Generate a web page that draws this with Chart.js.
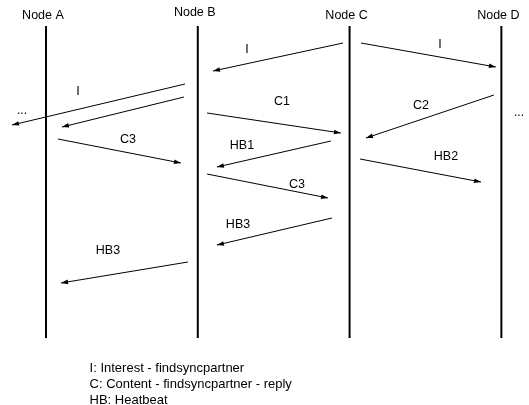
<!DOCTYPE html>
<html>
<head>
<meta charset="utf-8">
<script src="https://cdn.jsdelivr.net/npm/chart.js@4"></script>
<style>
  html, body { margin: 0; padding: 0; background: #fff; }
  #wrap { width: 529px; height: 405px; position: relative; }
</style>
</head>
<body>
<div id="wrap"><canvas id="seq"></canvas></div>
<script>
// Nodes sit on x = 0..3, time runs down the y axis
const nodes = ['Node A', 'Node B', 'Node C', 'Node D'];
const nodeLabelTime = [-1.2, -1.5, -1.2, -1.2];
const lifelineStart = 0;
const lifelineEnd = 31.2;

// Messages
const msgLabels = ['I', 'I', 'I', '', 'C1', 'C2', 'C3', 'HB1', 'C3', 'HB2', 'HB3', 'HB3'];
const msgFromX = [1.957, 2.075, 0.916, 0.909, 1.061, 2.951, 0.079, 1.877, 1.061, 2.069, 1.884, 0.935];
const msgFromT = [1.7, 1.7, 5.8, 7.1, 8.7, 6.9, 11.3, 11.5, 14.8, 13.3, 19.2, 23.6];
const msgToX = [1.100, 2.964, -0.224, 0.105, 1.943, 2.108, 0.889, 1.126, 1.858, 2.866, 1.126, 0.099];
const msgToT = [4.5, 4.1, 9.9, 10.1, 10.7, 11.2, 13.7, 14.1, 17.2, 15.6, 21.9, 25.7];
const msgLabelX = [1.324, 2.596, 0.211, 0, 1.555, 2.470, 0.540, 1.291, 1.653, 2.635, 1.265, 0.408];
const msgLabelT = [2.2, 1.7, 6.4, 0, 7.4, 7.8, 11.2, 11.8, 15.7, 12.9, 19.7, 22.3];

// "..." continuation marks
const dotsX = [-0.158, 3.116];
const dotsT = [8.4, 8.6];

// Key text
const keyLines = ['I: Interest - findsyncpartner', 'C: Content - findsyncpartner - reply', 'HB: Heatbeat'];
const keyX = 0.287;
const keyT = [34.1, 35.7, 37.3];

const FONT = "'Liberation Sans', Arial, sans-serif";

const datasets = [];

// ── Lifelines ──
nodes.forEach((n, i) => {
    datasets.push({
        label: n,
        data: [{ x: i, y: lifelineStart }, { x: i, y: lifelineEnd }],
        showLine: true,
        borderColor: '#000',
        borderWidth: 2,
        pointRadius: 0,
        isArrow: false
    });
});

// ── Message arrows ──
msgLabels.forEach((m, i) => {
    datasets.push({
        label: m,
        data: [{ x: msgFromX[i], y: msgFromT[i] }, { x: msgToX[i], y: msgToT[i] }],
        showLine: true,
        borderColor: '#000',
        borderWidth: 1,
        pointRadius: 0,
        isArrow: true
    });
});

const textPlugin = {
    id: 'seqText',
    afterDatasetsDraw(chart) {
        const ctx = chart.ctx;
        const xs = chart.scales.x, ys = chart.scales.y;

        // arrowheads
        chart.data.datasets.forEach((ds, di) => {
            if (!ds.isArrow) return;
            const pts = chart.getDatasetMeta(di).data;
            const a = pts[0], b = pts[1];
            const ang = Math.atan2(b.y - a.y, b.x - a.x);
            const len = 7, half = 2.3;
            ctx.save();
            ctx.translate(b.x, b.y);
            ctx.rotate(ang);
            ctx.beginPath();
            ctx.moveTo(0, 0);
            ctx.lineTo(-len, -half);
            ctx.lineTo(-len, half);
            ctx.closePath();
            ctx.fillStyle = '#000';
            ctx.fill();
            ctx.restore();
        });

        ctx.save();
        ctx.fillStyle = '#000';
        ctx.textBaseline = 'alphabetic';

        const put = (txt, x, t, size, align) => {
            ctx.font = size + 'px ' + FONT;
            ctx.textAlign = align;
            ctx.fillText(txt, xs.getPixelForValue(x), ys.getPixelForValue(t) + size * 0.36);
        };

        nodes.forEach((n, i) => put(n, i - 0.02, nodeLabelTime[i], 12.5, 'center'));
        msgLabels.forEach((m, i) => { if (m) put(m, msgLabelX[i], msgLabelT[i], 12.5, 'center'); });
        dotsX.forEach((x, i) => put('...', x, dotsT[i], 12, 'center'));
        keyLines.forEach((k, i) => put(k, keyX, keyT[i], 13, 'left'));
        ctx.restore();
    }
};

new Chart(document.getElementById('seq'), {
    type: 'scatter',
    data: { datasets: datasets },
    options: {
        responsive: true,
        maintainAspectRatio: false,
        animation: false,
        layout: { padding: 0 },
        scales: {
            x: { type: 'linear', display: false, min: -0.303, max: 3.182 },
            y: { type: 'linear', display: false, reverse: true, min: -2.6, max: 37.9 }
        },
        plugins: {
            legend: { display: false },
            tooltip: { enabled: false }
        }
    },
    plugins: [textPlugin]
});
</script>
</body>
</html>
